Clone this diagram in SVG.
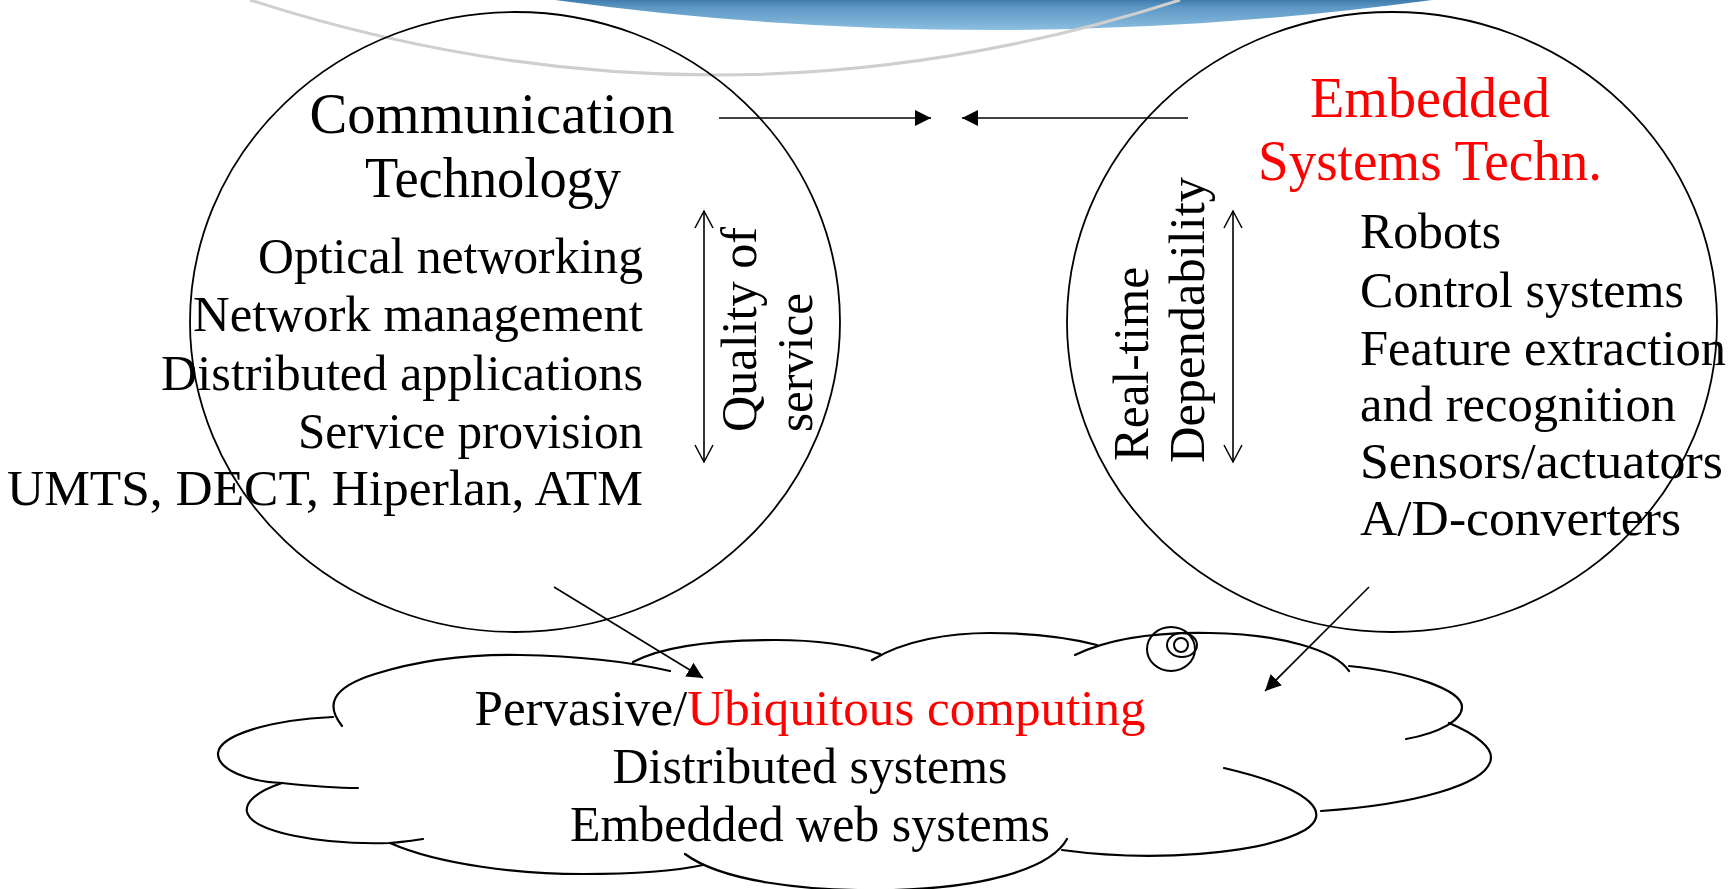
<svg xmlns="http://www.w3.org/2000/svg" width="1736" height="889" viewBox="0 0 1736 889">
<defs>
<style>
.t{font-family:"Liberation Serif","Times New Roman",serif;fill:#000}
.title{font-size:56px}
.item{font-size:51px}
.red{fill:#ff0000}
.ell{fill:none;stroke:#000;stroke-width:1.8}
.cl{fill:none;stroke:#000;stroke-width:2.2;stroke-linecap:round}
.ar{fill:none;stroke:#000;stroke-width:1.6}
</style>
<linearGradient id="blue" x1="0" y1="0" x2="0" y2="1">
<stop offset="0" stop-color="#3f7dae"/>
<stop offset="0.25" stop-color="#5d97c4"/>
<stop offset="1" stop-color="#8cbfe0"/>
</linearGradient>
<marker id="fh" markerUnits="userSpaceOnUse" markerWidth="18" markerHeight="16" refX="16" refY="8" orient="auto">
<path d="M0,0 L16,8 L0,16 z" fill="#000"/>
</marker>
<marker id="oh" markerUnits="userSpaceOnUse" markerWidth="20" markerHeight="22" refX="18" refY="10" orient="auto-start-reverse">
<path d="M1,1 L18,10 L1,19" fill="none" stroke="#000" stroke-width="1.5"/>
</marker>
</defs>
<rect width="1736" height="889" fill="#fff"/>

<g id="decor">
<path d="M555,0 Q990,60 1432,0 Z" fill="url(#blue)"/>
<path d="M250,0 Q715,150 1180,0" fill="none" stroke="#cfcfcf" stroke-width="3"/>
</g>

<g id="node-communication">
<ellipse class="ell" cx="515" cy="322" rx="325" ry="310"/>
<text class="t title" x="492" y="133" text-anchor="middle" textLength="365" lengthAdjust="spacingAndGlyphs">Communication</text>
<text class="t title" x="493" y="197" text-anchor="middle" textLength="256" lengthAdjust="spacingAndGlyphs">Technology</text>
<text class="t item" x="643" y="273" text-anchor="end" textLength="385" lengthAdjust="spacingAndGlyphs">Optical networking</text>
<text class="t item" x="643" y="331" text-anchor="end" textLength="450" lengthAdjust="spacingAndGlyphs">Network management</text>
<text class="t item" x="643" y="390" text-anchor="end" textLength="482" lengthAdjust="spacingAndGlyphs">Distributed applications</text>
<text class="t item" x="643" y="448" text-anchor="end" textLength="345" lengthAdjust="spacingAndGlyphs">Service provision</text>
<text class="t item" x="643" y="505" text-anchor="end" textLength="636" lengthAdjust="spacingAndGlyphs">UMTS, DECT, Hiperlan, ATM</text>
</g>

<g id="qos-axis">
<line class="ar" x1="704" y1="211" x2="704" y2="462" marker-start="url(#oh)" marker-end="url(#oh)"/>
<text class="t item" x="756" y="432" transform="rotate(-90 756 432)" textLength="205" lengthAdjust="spacingAndGlyphs">Quality of</text>
<text class="t item" x="812" y="432" transform="rotate(-90 812 432)" textLength="139" lengthAdjust="spacingAndGlyphs">service</text>
</g>

<g id="node-embedded">
<ellipse class="ell" cx="1392" cy="322" rx="325" ry="310"/>
<text class="t title red" x="1430" y="117" text-anchor="middle" textLength="240" lengthAdjust="spacingAndGlyphs">Embedded</text>
<text class="t title red" x="1430" y="180" text-anchor="middle" textLength="344" lengthAdjust="spacingAndGlyphs">Systems Techn.</text>
<text class="t item" x="1360" y="248" textLength="141" lengthAdjust="spacingAndGlyphs">Robots</text>
<text class="t item" x="1360" y="307" textLength="324" lengthAdjust="spacingAndGlyphs">Control systems</text>
<text class="t item" x="1360" y="365" textLength="366" lengthAdjust="spacingAndGlyphs">Feature extraction</text>
<text class="t item" x="1360" y="421" textLength="316" lengthAdjust="spacingAndGlyphs">and recognition</text>
<text class="t item" x="1360" y="478" textLength="363" lengthAdjust="spacingAndGlyphs">Sensors/actuators</text>
<text class="t item" x="1360" y="535" textLength="321" lengthAdjust="spacingAndGlyphs">A/D-converters</text>
</g>

<g id="rt-axis">
<line class="ar" x1="1233" y1="211" x2="1233" y2="462" marker-start="url(#oh)" marker-end="url(#oh)"/>
<text class="t item" x="1148" y="461" transform="rotate(-90 1148 461)" textLength="194" lengthAdjust="spacingAndGlyphs">Real-time</text>
<text class="t item" x="1204" y="463" transform="rotate(-90 1204 463)" textLength="286" lengthAdjust="spacingAndGlyphs">Dependability</text>
</g>

<g id="node-cloud">
<path class="cl" d="M342,726 C326,706 330,688 375,674 C420,660 470,654 520,655 C580,656 630,662 670,671"/>
<path class="cl" d="M633,662 C665,645 720,640 775,640 C820,640 855,646 880,654"/>
<path class="cl" d="M872,660 C905,640 950,633 990,633 C1035,633 1070,638 1097,645"/>
<path class="cl" d="M1075,655 C1110,638 1160,632 1210,633 C1280,634 1335,650 1349,671"/>
<path class="cl" d="M1349,666 C1410,672 1462,690 1462,707 C1462,720 1440,733 1406,739"/>
<path class="cl" d="M1449,723 C1478,735 1491,748 1491,757 C1491,785 1410,805 1321,811"/>
<path class="cl" d="M1062,850 C1150,862 1260,855 1305,830 C1330,815 1318,790 1224,768"/>
<path class="cl" d="M685,854 C720,880 800,892 893,890 C980,888 1050,870 1067,839"/>
<path class="cl" d="M390,843 C440,865 520,874 583,874 C640,874 680,870 703,865"/>
<path class="cl" d="M282,783 C255,792 245,803 247,812 C252,832 320,845 390,843 C400,842 412,841 423,839"/>
<path class="cl" d="M333,717 C270,720 220,735 218,753 C217,770 250,782 282,783 C310,786 335,788 358,788"/>
<g fill="none" stroke="#000" stroke-width="2">
<ellipse cx="1171" cy="649" rx="24" ry="22"/>
<ellipse cx="1182" cy="645" rx="15" ry="12"/>
<circle cx="1181" cy="645" r="7"/>
</g>
<text class="t item" x="810" y="725" text-anchor="middle" textLength="671" lengthAdjust="spacingAndGlyphs">Pervasive/<tspan class="red">Ubiquitous computing</tspan></text>
<text class="t item" x="810" y="783" text-anchor="middle" textLength="395" lengthAdjust="spacingAndGlyphs">Distributed systems</text>
<text class="t item" x="810" y="841" text-anchor="middle" textLength="480" lengthAdjust="spacingAndGlyphs">Embedded web systems</text>
</g>

<g id="connectors">
<line class="ar" x1="719" y1="118" x2="931" y2="118" marker-end="url(#fh)"/>
<line class="ar" x1="1188" y1="118" x2="962" y2="118" marker-end="url(#fh)"/>
<line class="ar" x1="554" y1="587" x2="703" y2="678" marker-end="url(#fh)"/>
<line class="ar" x1="1369" y1="587" x2="1265" y2="691" marker-end="url(#fh)"/>
</g>
</svg>
